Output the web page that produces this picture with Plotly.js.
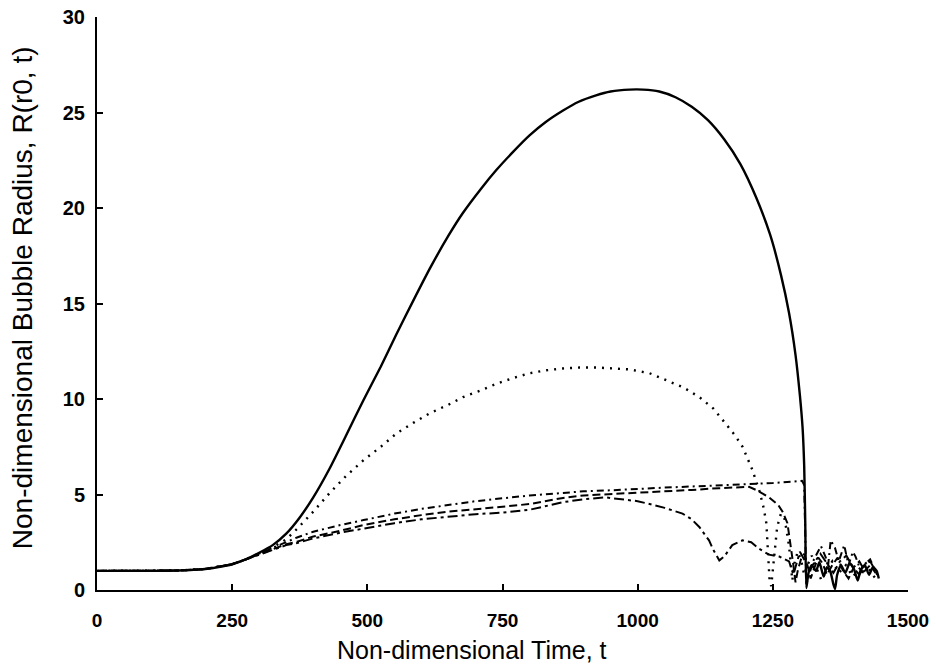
<!DOCTYPE html>
<html>
<head>
<meta charset="utf-8">
<script src="https://cdn.plot.ly/plotly-3.0.1.min.js"></script>
<style>html,body{margin:0;padding:0;background:#fff;}#chart{width:936px;height:671px;}</style>
</head>
<body>
<div id="chart"></div>
<script>
// Solid curve (largest bubble)
const tSolid = [0,50,100,150,200,225,250,275,300,325,350,375,400,430,460,493,525,554,585,616,650,677,710,739,770,800,830,862,890,923,950,985,1010,1040,1070,1100,1130,1160,1190,1220,1245,1265,1280,1292,1300,1305,1308,1310,1312,
  1316,1322,1330,1336,1344,1350,1356,1362,1365,1369,1376,1384,1392,1400,1407,1412,1420,1428,1435,1442,1446];
const rSolid = [1.0,1.0,1.0,1.02,1.1,1.2,1.35,1.6,1.95,2.35,2.95,3.8,4.85,6.35,8.05,9.95,11.7,13.4,15.15,16.85,18.55,19.75,21.0,22.0,22.95,23.8,24.5,25.1,25.55,25.9,26.1,26.2,26.2,26.1,25.8,25.3,24.6,23.6,22.3,20.5,18.6,16.5,14.5,12.3,10.2,8.5,6.5,3.5,0.1,
  0.9,1.3,1.0,1.45,0.7,1.2,1.0,0.3,0.05,0.8,1.3,0.9,1.4,1.1,0.5,1.0,1.3,0.8,1.2,1.0,0.6];

// Dotted curve
const tDot = [0,100,150,200,250,275,300,326,350,370,400,431,460,493,525,554,585,615,650,677,710,739,770,800,830,862,893,923,955,985,1022,1052,1085,1114,1140,1163,1180,1194,1212,1225,1233,1238,1241,1244,1247,1252,1258,1265,1272,1280,1286,
  1290,1296,1302,1308,1314,1322,1330,1340,1350,1360,1372,1385,1398,1410,1422,1432,1440];
const rDot = [1.0,1.0,1.02,1.1,1.35,1.6,1.9,2.25,2.65,3.2,4.1,5.1,5.95,6.8,7.5,8.2,8.75,9.25,9.7,10.1,10.45,10.8,11.1,11.35,11.5,11.6,11.65,11.65,11.6,11.55,11.35,11.0,10.6,10.1,9.5,8.7,8.1,7.5,6.3,5.2,4.3,3.5,2.0,0.5,0.2,1.5,3.3,4.0,3.7,2.3,0.5,
  1.4,2.0,1.6,0.8,1.3,1.8,1.2,0.5,1.1,1.5,0.9,1.3,0.7,1.1,1.4,0.9,0.6];

// Dash-dot curve (upper of the lower bundle)
const tDashDot = [0,100,150,200,250,275,300,325,350,370,400,450,493,550,600,650,700,750,800,862,900,950,1000,1050,1100,1150,1206,1250,1290,1304,1308,1310,1312,
  1318,1326,1339,1348,1352,1357,1365,1372,1382,1390,1398,1403,1410,1416,1422,1430,1438,1443];
const rDashDot = [1.0,1.0,1.02,1.1,1.35,1.6,1.9,2.2,2.5,2.75,3.05,3.4,3.66,4.0,4.25,4.45,4.65,4.8,4.95,5.08,5.17,5.22,5.3,5.36,5.42,5.48,5.52,5.6,5.68,5.72,5.5,3.0,0.3,
  0.9,1.6,2.3,1.7,1.2,2.6,2.2,1.5,2.35,1.3,2.0,1.75,1.2,0.9,1.4,1.6,1.1,0.8];

// Dashed curve (middle of the lower bundle)
const tDash = [0,100,150,200,250,275,300,325,350,370,400,450,493,550,600,650,700,750,800,862,900,950,1000,1050,1100,1150,1190,1206,1222,1243,1260,1268,1277,1283,1288,1292,
  1296,1302,1308,1314,1320,1326,1334,1342,1350,1360,1370,1380,1390,1400,1410,1420,1430,1440];
const rDash = [1.0,1.0,1.02,1.1,1.35,1.6,1.88,2.15,2.4,2.53,2.8,3.1,3.4,3.7,3.92,4.1,4.25,4.36,4.5,4.82,4.95,5.02,5.08,5.15,5.24,5.33,5.4,5.4,5.2,4.85,4.45,4.1,3.5,2.4,1.3,0.4,
  1.0,1.6,1.9,1.3,0.6,1.1,1.7,1.4,0.8,1.3,1.7,1.0,0.6,1.2,1.5,1.0,1.3,0.9];

// Long-dash curve (lower of the bundle, early collapse with dip)
const tLong = [0,100,150,200,250,275,300,325,350,370,400,450,493,550,600,650,700,750,800,862,900,940,975,1000,1022,1050,1083,1100,1114,1132,1140,1151,1160,1175,1194,1210,1225,1243,1262,1280,
  1288,1294,1300,1308,1316,1326,1338,1350,1362,1374,1386,1398,1410,1420,1430,1440];
const rLong = [1.0,1.0,1.02,1.1,1.35,1.6,1.85,2.1,2.35,2.46,2.7,3.0,3.23,3.5,3.7,3.85,3.97,4.05,4.2,4.6,4.75,4.85,4.75,4.65,4.5,4.3,4.0,3.7,3.3,2.6,2.1,1.55,1.75,2.35,2.6,2.5,2.15,1.85,1.75,1.5,
  0.8,1.4,2.0,1.6,1.0,1.4,1.9,1.4,0.9,1.5,1.8,1.2,0.8,1.3,1.5,1.0];

const xTicks = [0,250,500,750,1000,1250,1500];
const yTicks = [0,5,10,15,20,25,30];
const xTitle = 'Non-dimensional Time, t';
const yTitle = 'Non-dimensional Bubble Radius, R(r0, t)';

const black = '#000';
const traces = [
  {x:tLong, y:rLong, mode:'lines', line:{color:black, width:2, dash:'10px,4px,3px,4px'}},
  {x:tDash, y:rDash, mode:'lines', line:{color:black, width:2, dash:'8px,4px'}},
  {x:tDashDot, y:rDashDot, mode:'lines', line:{color:black, width:2, dash:'7px,4px,2px,4px'}},
  {x:tDot, y:rDot, mode:'lines', line:{color:black, width:2.4, dash:'2px,6px'}},
  {x:tSolid, y:rSolid, mode:'lines', line:{color:black, width:2.4, shape:'spline', smoothing:0.6}}
];

const narrow = '"Liberation Sans Narrow", "Arial Narrow", "Liberation Sans", Arial, sans-serif';
const layout = {
  width:936, height:671,
  margin:{l:97, r:28, t:17, b:81},
  paper_bgcolor:'#fff', plot_bgcolor:'#fff',
  showlegend:false,
  xaxis:{range:[0,1500], tickvals:xTicks, ticktext:xTicks.map(String),
    showline:true, linecolor:black, linewidth:2, ticks:'inside', ticklen:6, tickwidth:2, tickcolor:black,
    showgrid:false, zeroline:false, ticklabelstandoff:12,
    tickfont:{family:narrow, size:19, color:black, weight:'bold'}},
  yaxis:{range:[0,30], tickvals:yTicks, ticktext:yTicks.map(String),
    showline:true, linecolor:black, linewidth:2, ticks:'inside', ticklen:6, tickwidth:2, tickcolor:black,
    showgrid:false, zeroline:false, ticklabelstandoff:6,
    tickfont:{family:'"Liberation Sans", Arial, sans-serif', size:20, color:black, weight:'bold'}},
  annotations:[
    {text:xTitle, xref:'paper', yref:'paper', x:0.462, y:-0.105, xanchor:'center', yanchor:'middle', showarrow:false,
     font:{family:'"Liberation Sans", Arial, sans-serif', size:25, color:black}},
    {text:yTitle, xref:'paper', yref:'paper', x:-0.0925, y:0.511, xanchor:'center', yanchor:'middle', textangle:-90, showarrow:false,
     font:{family:'"Liberation Sans", Arial, sans-serif', size:28, color:black}}
  ]
};
Plotly.newPlot('chart', traces, layout, {staticPlot:true, displayModeBar:false});
</script>
</body>
</html>
